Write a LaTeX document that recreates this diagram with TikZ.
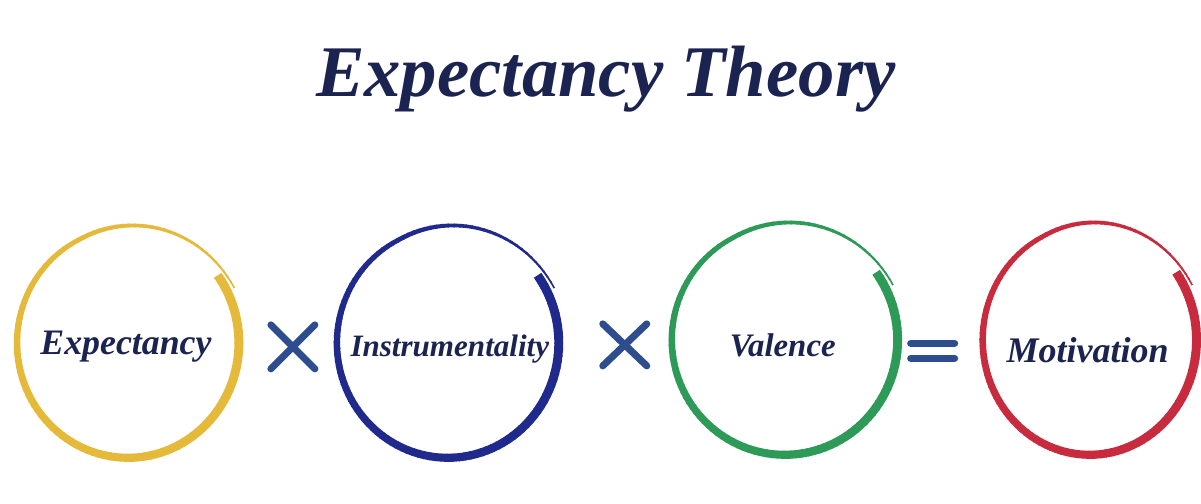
\documentclass[tikz,border=0pt]{standalone}
\usepackage{fontspec}
\setmainfont{Liberation Serif}

\definecolor{ringyellow}{HTML}{E5B93A}
\definecolor{ringblue}{HTML}{1F2A8C}
\definecolor{ringgreen}{HTML}{2E9A57}
\definecolor{ringred}{HTML}{C72B3D}
\definecolor{opblue}{HTML}{2D4D8E}
\definecolor{textnavy}{HTML}{1B2350}

% brush-stroke ring: centre, x radius, y radius, colour
\newcommand{\brushring}[4]{%
  \foreach \t in {0,3,...,366} {
    \pgfmathsetmacro{\angA}{36-\t}
    \pgfmathsetmacro{\angB}{36-\t-3.6}
    \pgfmathsetmacro{\wd}{(9-7.5*(\t/369)*(\t/369))*0.567}
    \pgfmathsetmacro{\fa}{1+0.0008*max(0,\t-280)}
    \pgfmathsetmacro{\fb}{1+0.0008*max(0,\t+3.6-280)}
    \draw[#4, line width=\wd pt, shift={(#1)}]
      (\angA:{#2*\fa} and {#3*\fa}) -- (\angB:{#2*\fb} and {#3*\fb});
  }%
}

\begin{document}
\begin{tikzpicture}[
    x=0.02cm, y=0.02cm,
    headline/.style={font=\fontsize{41.4}{48}\selectfont\bfseries\itshape, text=textnavy, anchor=base, inner sep=0pt},
    ringtext/.style={font=\bfseries\itshape, text=textnavy, anchor=base, inner sep=0pt},
    opline/.style={opblue, line width=4pt, line cap=round}
]

\fill[white] (0,0) rectangle (1201,504);

\node[headline] (title) at (606,407) {Expectancy Theory};

% ring centres
\coordinate (c1) at (128,161);
\coordinate (c2) at (448,161);
\coordinate (c3) at (785,164);
\coordinate (c4) at (1090,164);

\brushring{c1}{111}{115}{ringyellow}
\brushring{c2}{111}{115}{ringblue}
\brushring{c3}{113}{115}{ringgreen}
\brushring{c4}{107}{115}{ringred}

\node[ringtext, font=\fontsize{20.4}{24}\selectfont\bfseries\itshape] (expect) at (126,149) {Expectancy};
\node[ringtext, font=\fontsize{17.7}{21}\selectfont\bfseries\itshape] (instr) at (450,147) {Instrumentality};
\node[ringtext, font=\fontsize{18.7}{22}\selectfont\bfseries\itshape] (valence) at (783,147) {Valence};
\node[ringtext, font=\fontsize{20.5}{24}\selectfont\bfseries\itshape] (motiv) at (1088,141) {Motivation};

% operators
\coordinate (times1) at (293,157);
\coordinate (times2) at (625,159);
\coordinate (equals) at (933,153);

\draw[opline] ([shift={(-22,22)}]times1) -- ([shift={(22,-22)}]times1);
\draw[opline] ([shift={(-22,-22)}]times1) -- ([shift={(22,22)}]times1);
\draw[opline] ([shift={(-22,21)}]times2) -- ([shift={(22,-21)}]times2);
\draw[opline] ([shift={(-22,-21)}]times2) -- ([shift={(22,21)}]times2);
\draw[opline] ([shift={(-22,7.5)}]equals) -- ([shift={(22,7.5)}]equals);
\draw[opline] ([shift={(-22,-7.5)}]equals) -- ([shift={(22,-7.5)}]equals);

\end{tikzpicture}
\end{document}
